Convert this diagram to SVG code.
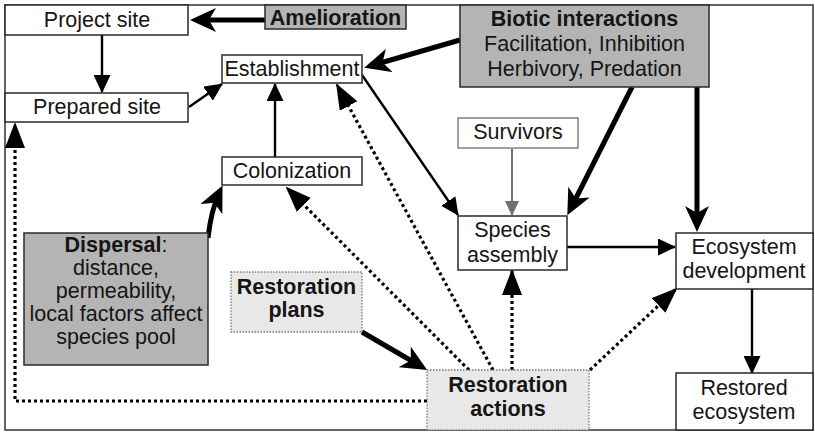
<svg xmlns="http://www.w3.org/2000/svg" width="815" height="433" viewBox="0 0 815 433">
<style>
text{font-family:"Liberation Sans",Arial,sans-serif;font-size:21.5px;fill:#151515;text-anchor:middle}
.b{font-weight:bold}
.box{fill:#fff;stroke:#2a2a2a;stroke-width:1.5}
.gray{fill:#b4b4b4;stroke:#2a2a2a;stroke-width:1.5}
.light{fill:#e8e8e8;stroke:#777;stroke-width:1.3;stroke-dasharray:1.5 1.5}
.thin{fill:none;stroke:#000;stroke-width:2.4;marker-end:url(#ah)}
.thick{fill:none;stroke:#000;stroke-width:5;marker-end:url(#aht)}
.dot{fill:none;stroke:#000;stroke-width:3.2;stroke-dasharray:3 3;marker-end:url(#ahd)}
.grayarr{fill:none;stroke:#707070;stroke-width:2;marker-end:url(#ahg)}
</style>
<defs>
<marker id="ah" markerUnits="userSpaceOnUse" viewBox="0 0 18 17" markerWidth="18" markerHeight="17" refX="17" refY="8.5" orient="auto"><path d="M0,0 L18,8.5 L0,17 z" fill="#000"/></marker>
<marker id="aht" markerUnits="userSpaceOnUse" viewBox="0 0 26 24" markerWidth="26" markerHeight="24" refX="20" refY="12" orient="auto"><path d="M0,0 L26,12 L0,24 L7,12 z" fill="#000"/></marker>
<marker id="ahd" markerUnits="userSpaceOnUse" viewBox="0 0 26 20" markerWidth="26" markerHeight="20" refX="24" refY="10" orient="auto"><path d="M0,0 L26,10 L0,20 z" fill="#000"/></marker>
<marker id="ahg" markerUnits="userSpaceOnUse" viewBox="0 0 15 14" markerWidth="15" markerHeight="14" refX="14" refY="7" orient="auto"><path d="M0,0 L15,7 L0,14 z" fill="#707070"/></marker>
</defs>
<rect x="5" y="5" width="808" height="425" fill="#fff" stroke="#333" stroke-width="1.5"/>
<g id="connectors">
<path class="thick" d="M265,20 L196,20"/>
<path class="thin" d="M102,35 L102,92"/>
<path class="thin" d="M189,107 L222,84"/>
<path class="thin" d="M275,157 L275,84"/>
<path class="thick" d="M460,40 L370,66"/>
<path class="thin" d="M362,75 L458,215"/>
<path class="grayarr" d="M512,149 L512,215"/>
<path class="thick" d="M632,87 L570,210"/>
<path class="thick" d="M697,87 L697,226"/>
<path class="thin" d="M567,247 L675,247"/>
<path class="thin" d="M752,289 L752,373"/>
<path class="thick" d="M208,238 Q211,210 220,191"/>
<path class="thick" d="M362,332 L422,367"/>
<path class="dot" d="M427,401 L15,401 L15,124"/>
<path class="dot" d="M469,370 L287,188"/>
<path class="dot" d="M493,370 L337,85"/>
<path class="dot" d="M512,370 L512,271"/>
<path class="dot" d="M590,370 L676,289"/>
</g>
<g id="project-site"><rect class="box" x="5" y="5" width="183" height="30"/><text x="97" y="27">Project site</text></g>
<g id="amelioration"><rect class="gray" x="265" y="5" width="141" height="24"/><text class="b" x="335.5" y="25">Amelioration</text></g>
<g id="prepared-site"><rect class="box" x="5" y="93" width="183" height="29"/><text x="97" y="114">Prepared site</text></g>
<g id="establishment"><rect class="box" x="222" y="55" width="140" height="28"/><text x="292" y="76">Establishment</text></g>
<g id="colonization"><rect class="box" x="222" y="157" width="140" height="28"/><text x="292" y="178">Colonization</text></g>
<g id="biotic"><rect class="gray" x="460" y="5" width="249" height="82"/>
<text class="b" x="584.5" y="26">Biotic interactions</text>
<text x="584.5" y="51">Facilitation, Inhibition</text>
<text x="584.5" y="76">Herbivory, Predation</text></g>
<g id="survivors"><rect x="458" y="118" width="120" height="30" fill="#fff" stroke="#808080" stroke-width="1.5"/><text x="518" y="139">Survivors</text></g>
<g id="species-assembly"><rect class="box" x="458" y="216" width="109" height="54"/><text x="512.5" y="237">Species</text><text x="512.5" y="262">assembly</text></g>
<g id="ecosystem-development"><rect class="box" x="676" y="233" width="137" height="56"/><text x="744" y="254">Ecosystem</text><text x="744" y="278">development</text></g>
<g id="restored-ecosystem"><rect class="box" x="676" y="373" width="137" height="57"/><text x="744" y="395">Restored</text><text x="744" y="419">ecosystem</text></g>
<g id="dispersal"><rect class="gray" x="24" y="233" width="184" height="132"/>
<text x="116" y="252"><tspan class="b">Dispersal</tspan>:</text>
<text x="116" y="275">distance,</text>
<text x="116" y="298">permeability,</text>
<text x="116" y="321">local factors affect</text>
<text x="116" y="344">species pool</text></g>
<g id="restoration-plans"><rect class="light" x="231" y="272" width="131" height="60"/><text class="b" x="296.5" y="294">Restoration</text><text class="b" x="296.5" y="317">plans</text></g>
<g id="restoration-actions"><rect class="light" x="427" y="370" width="162" height="60"/><text class="b" x="508" y="392">Restoration</text><text class="b" x="508" y="416">actions</text></g>
</svg>
